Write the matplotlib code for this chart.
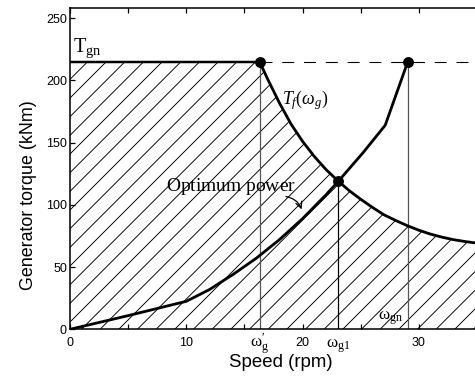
import numpy as np
import matplotlib
matplotlib.use('Agg')
import matplotlib.pyplot as plt

plt.rcParams['font.family'] = ['Liberation Sans', 'DejaVu Sans']
plt.rcParams['mathtext.fontset'] = 'custom'
plt.rcParams['mathtext.rm'] = 'Liberation Serif'
plt.rcParams['mathtext.it'] = 'Liberation Serif:italic'
plt.rcParams['mathtext.bf'] = 'Liberation Serif:bold'
plt.rcParams['hatch.linewidth'] = 0.6

# values
t_gn = 215
w_g_prime = 16.3
w_g1 = 23.07
w_gn = 29.04

# torque limit T_f(w_g)
tf_speed = [16.3, 17, 18, 19, 20, 21, 22, 23.07, 24, 25, 26, 27, 28, 29, 30, 31, 32, 33, 34, 36, 38, 40]
tf_torque = [215, 201, 182, 165, 151, 139, 128.5, 119, 111.5, 104.5, 98, 92, 87.5, 83.3, 79.6,
             76.5, 74, 72, 70.5, 68, 66, 64]

# optimum power curve
opt_speed = [0, 5, 10, 12, 14, 16, 18, 20, 22, 23.07]
opt_torque = [0, 11, 22.5, 32, 44, 57, 72, 89, 108, 119]

# rising branch up to rated point
rise_speed = [23.07, 25.2, 27.1, 29.04]
rise_torque = [119, 142, 164, 215]

xticks = [0, 10, 20, 30]
xminor = [5, 15, 25, 35]
yticks = [0, 50, 100, 150, 200, 250]

dpi = 112
fig = plt.figure(figsize=(475 / dpi, 381 / dpi), dpi=dpi)
ax = fig.add_axes([0.1474, 0.1357, 0.9794, 0.8425])

# hatched area under the limit curve
hs = [0] + tf_speed
ht = [t_gn] + tf_torque
ax.fill_between(hs, 0, ht, facecolor='none', edgecolor='black', hatch='//', linewidth=0)

# vertical markers
ax.plot([w_g_prime, w_g_prime], [0, t_gn], color='#555555', lw=0.8)
ax.plot([w_g1, w_g1], [0, 119], color='black', lw=0.8)
ax.plot([w_gn, w_gn], [0, t_gn], color='#555555', lw=0.8)

# rated torque
ax.plot([0, w_g_prime], [t_gn, t_gn], color='black', lw=1.6)
ax.plot([w_g_prime, 40], [t_gn, t_gn], color='black', lw=0.7, dashes=(11, 9))

ax.plot(tf_speed, tf_torque, color='black', lw=1.8)
ax.plot(opt_speed, opt_torque, color='black', lw=1.8)
ax.plot(rise_speed, rise_torque, color='black', lw=1.8)

ax.plot([w_g_prime, w_g1, w_gn], [t_gn, 119, t_gn], 'o', color='black', ms=6)

ax.set_xlim(0, 40)
ax.set_ylim(0, 258)
ax.set_xticks(xticks)
ax.set_xticks(xminor, minor=True)
ax.set_yticks(yticks)
ax.tick_params(which='both', direction='in', top=True, right=True, length=3.5, width=0.8,
               labelsize=8)
ax.tick_params(axis='x', pad=5)
ax.tick_params(axis='y', pad=2)
for s in ax.spines.values():
    s.set_linewidth(1.0)

ax.set_xlabel('Speed (rpm)', fontsize=12)
ax.xaxis.set_label_coords(0.4525, -0.078)
ax.set_ylabel('Generator torque (kNm)', fontsize=11.5)
ax.yaxis.set_label_coords(-0.072, 0.418)

ax.text(0.25, 223, r'$\mathrm{T_{gn}}$', fontsize=13, ha='left', va='baseline')
ax.text(18.2, 181, r'$T_f(\omega_g)$', fontsize=11.5, ha='left', va='baseline')
ax.text(8.25, 111.4, r'$\mathrm{Optimum\ power}$', fontsize=12.5, ha='left', va='baseline')
ax.annotate('', xy=(20.0, 94), xytext=(18.3, 107),
            arrowprops=dict(arrowstyle='->', lw=0.8, color='black',
                            connectionstyle='arc3,rad=-0.35'))
ax.text(26.5, 7.5, r'$\mathrm{ω_{gn}}$', fontsize=11, ha='left', va='baseline')
ax.text(w_g_prime, -14.5, r"$\mathrm{ω}^{\prime}_{\mathrm{g}}$", fontsize=11, ha='center',
        va='baseline', clip_on=False)
ax.text(w_g1, -15, r'$\mathrm{ω_{g1}}$', fontsize=11, ha='center', va='baseline', clip_on=False)

fig.savefig('out.png', dpi=dpi)
